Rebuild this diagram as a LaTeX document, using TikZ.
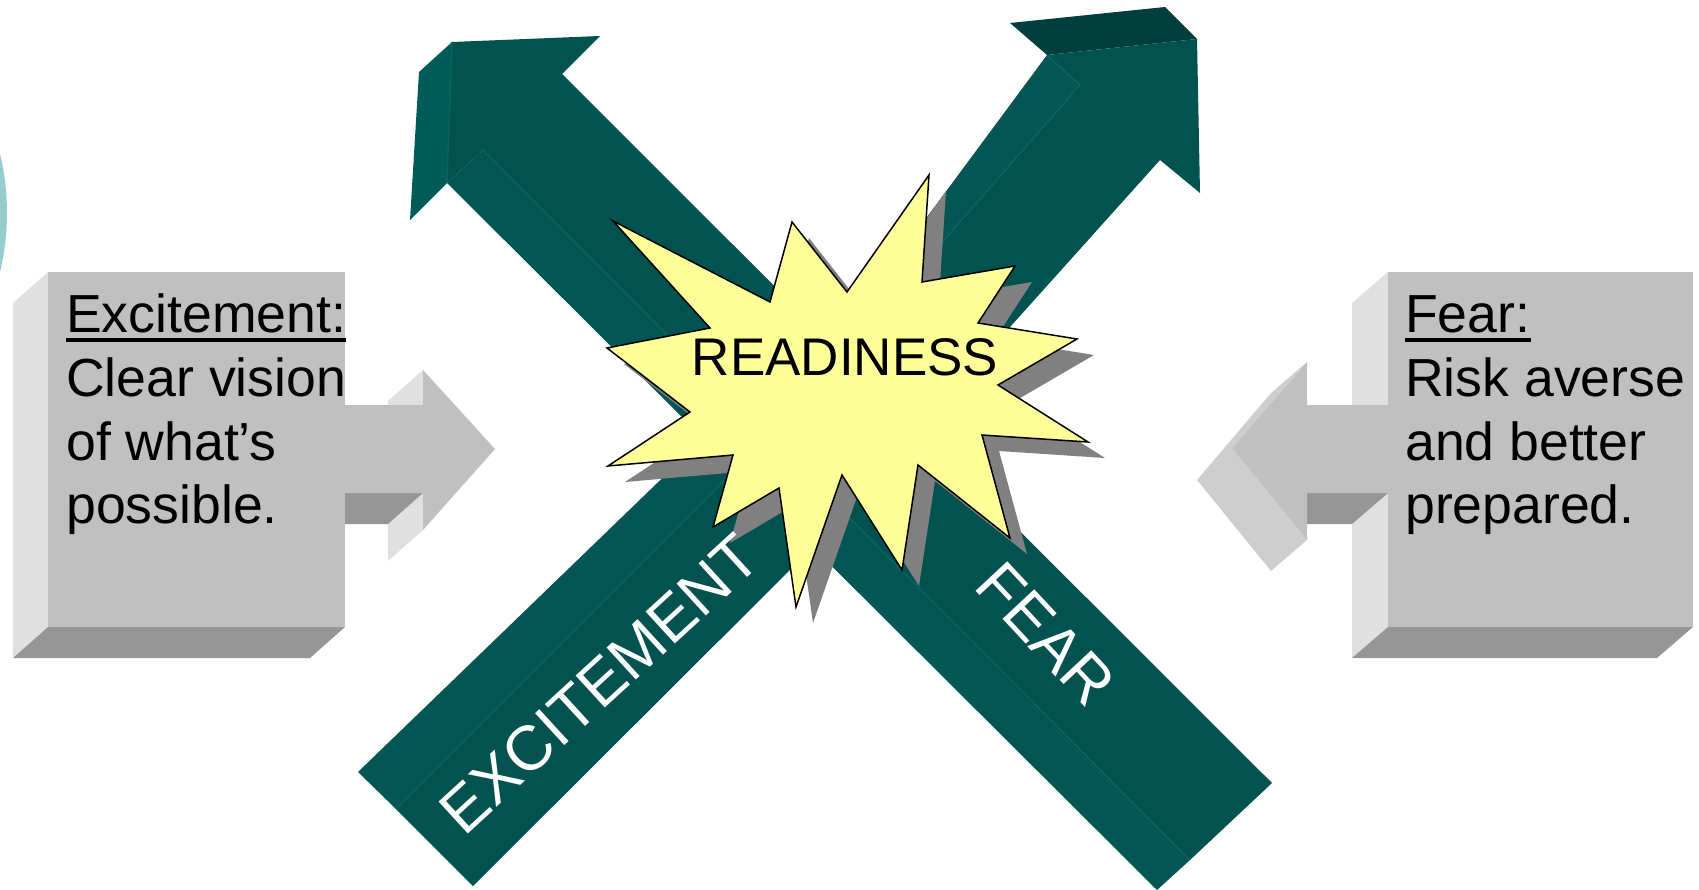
\documentclass[tikz,border=0pt]{standalone}
\usepackage{fontspec}
\setmainfont{Liberation Sans}
\definecolor{tealfront}{RGB}{2,82,80}
\definecolor{tealside}{RGB}{3,86,84}
\definecolor{tealhead}{RGB}{1,92,89}
\definecolor{tealdark}{RGB}{1,63,62}
\definecolor{tealline}{RGB}{12,100,97}
\definecolor{boxfront}{RGB}{192,192,192}
\definecolor{boxlight}{RGB}{224,224,224}
\definecolor{boxdark}{RGB}{150,150,150}
\definecolor{headface}{RGB}{206,206,206}
\definecolor{burst}{RGB}{255,255,153}
\definecolor{shadowgray}{RGB}{128,128,128}
\definecolor{circleteal}{RGB}{150,204,204}
\begin{document}
\begin{tikzpicture}[x=1pt,y=-1pt,
  tfront/.style={fill=tealfront},
  tside/.style={fill=tealside},
  thead/.style={fill=tealhead},
  ttop/.style={fill=tealdark},
  tline/.style={draw=tealline,line width=1.3pt},
  gfront/.style={fill=boxfront},
  glight/.style={fill=boxlight},
  gdark/.style={fill=boxdark},
  ghead/.style={fill=headface},
  boxtext/.style={anchor=base west,inner sep=0pt,font=\fontsize{53.6}{63.5}\selectfont},
  arrowlabel/.style={inner sep=0pt,text=white,font=\fontsize{63}{63}\selectfont},
  uline/.style={line width=3.5pt}]
\useasboundingbox (0,0) rectangle (1699,890);
\begin{scope}
\clip (0,0) rectangle (1699,890);
% teal circle at the left edge
\fill[circleteal] (-245,213) circle[radius=252];

% FEAR arrow (bottom right to top left)
\fill[thead] (452,42) -- (447,183) -- (410,220) -- (419,72) -- cycle;
\fill[tside] (483,150) -- (1190,860) -- (1157,890) -- (447,183) -- cycle;
\fill[tfront] (452,42) -- (600,36) -- (562,74) -- (1272,783) -- (1190,860) -- (483,150) -- (447,183) -- cycle;
\draw[tline] (452,42) -- (447,183);
\draw[tline] (483,150) -- (1190,860);

% EXCITEMENT arrow (bottom left to top right)
\fill[ttop] (1010,23) -- (1165,7) -- (1197,39) -- (1047,55) -- cycle;
\fill[tside] (1047,55) -- (1080,85) -- (795,410) -- (396,809) -- (358,772) -- (913,236) -- cycle;
\fill[tfront] (1197,39) -- (1200,193) -- (1160,160) -- (808,552) -- (473,886) -- (396,809) -- (795,410) -- (1080,85) -- (1047,55) -- cycle;
\draw[tline] (1047,55) -- (1080,85) -- (795,410) -- (396,809);

% starburst shadow and starburst
\fill[shadowgray, shift={(17,16)}] (613,221) -- (770,302) -- (792,222) -- (847,292) -- (929,175) -- (922,282) -- (1015,266) -- (978,323) -- (1077,339) -- (998,385) -- (1088,442) -- (982,435) -- (1010,538) -- (918,465) -- (902,570) -- (842,475) -- (796,607) -- (779,488) -- (713,527) -- (733,455) -- (608,466) -- (690,412) -- (607,348) -- (710,328) -- cycle;
\filldraw[fill=burst, draw=black, line width=1.5pt, line join=miter] (613,221) -- (770,302) -- (792,222) -- (847,292) -- (929,175) -- (922,282) -- (1015,266) -- (978,323) -- (1077,339) -- (998,385) -- (1088,442) -- (982,435) -- (1010,538) -- (918,465) -- (902,570) -- (842,475) -- (796,607) -- (779,488) -- (713,527) -- (733,455) -- (608,466) -- (690,412) -- (607,348) -- (710,328) -- cycle;

% left box with arrow
\fill[glight] (48,272) -- (48,627) -- (13,658) -- (13,303) -- cycle;
\fill[gdark] (48,627) -- (345,627) -- (310,658) -- (13,658) -- cycle;
\fill[glight] (423,370) -- (423,405) -- (388,436) -- (388,401) -- cycle;
\fill[glight] (423,493) -- (423,530) -- (388,561) -- (388,524) -- cycle;
\fill[gdark] (345,493) -- (423,493) -- (388,524) -- (345,524) -- cycle;
\fill[gfront] (48,272) rectangle (345,627);
\fill[gfront] (345,405) -- (423,405) -- (423,370) -- (495,449) -- (423,530) -- (423,493) -- (345,493) -- cycle;

% right box with arrow
\fill[glight] (1388,272) -- (1388,627) -- (1352,658) -- (1352,303) -- cycle;
\fill[gdark] (1388,627) -- (1693,627) -- (1657,658) -- (1352,658) -- cycle;
\fill[gfront] (1388,272) rectangle (1693,627);
\fill[gdark] (1307,493) -- (1388,493) -- (1352,524) -- (1307,524) -- cycle;
\fill[ghead] (1307,362) -- (1232,448) -- (1197,480) -- (1271,393) -- cycle;
\fill[ghead] (1232,448) -- (1307,540) -- (1271,571) -- (1197,480) -- cycle;
\fill[gfront] (1388,405) -- (1307,405) -- (1307,362) -- (1232,448) -- (1307,540) -- (1307,493) -- (1388,493) -- cycle;
\end{scope}

% texts
\node[anchor=base, inner sep=0pt, font=\fontsize{53}{53}\selectfont] (ready) at (845,375) {READINESS};
\node[arrowlabel, rotate=42.5] (exclabel) at (600,684) {EXCITEMENT};
\node[arrowlabel, rotate=-47] (fearlabel) at (1046,634) {FEAR};

\node[boxtext] (exc1) at (66,333) {Excitement:};
\node[boxtext] (exc2) at (66,396.5) {Clear vision};
\node[boxtext] (exc3) at (66,460) {of what’s};
\node[boxtext] (exc4) at (66,523.5) {possible.};
\draw[uline] ([yshift=-7pt]exc1.base west) -- ([yshift=-7pt]exc1.base east);

\node[boxtext] (fear1) at (1405,333) {Fear:};
\node[boxtext] (fear2) at (1405,396.5) {Risk averse};
\node[boxtext] (fear3) at (1405,460) {and better};
\node[boxtext] (fear4) at (1405,523.5) {prepared.};
\draw[uline] ([yshift=-7pt]fear1.base west) -- ([yshift=-7pt]fear1.base east);
\end{tikzpicture}
\end{document}
